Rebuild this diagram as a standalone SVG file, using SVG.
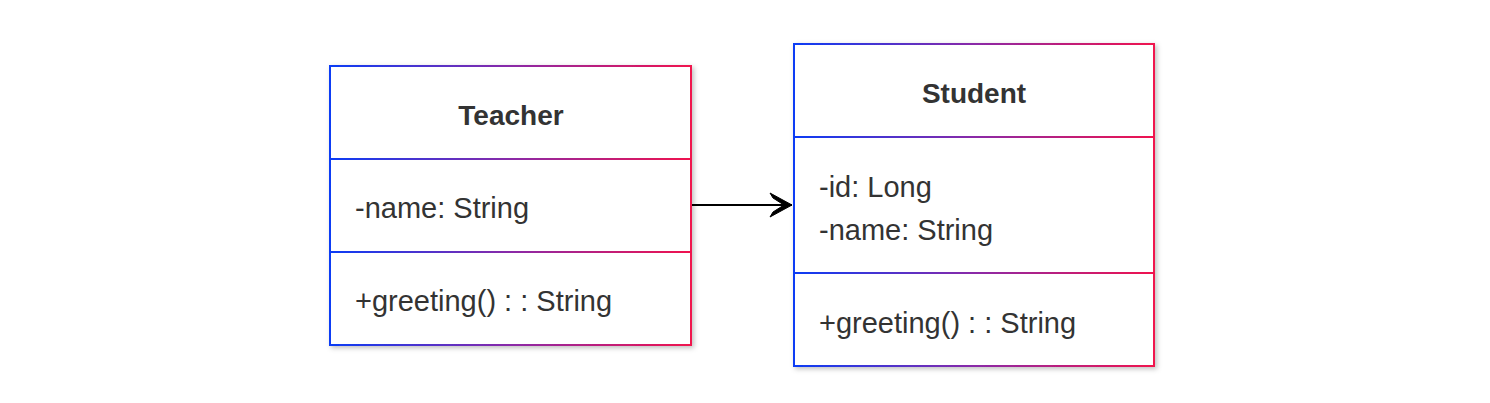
<svg xmlns="http://www.w3.org/2000/svg" width="1490" height="403" viewBox="0 0 1490 403">
<style>
text{font-family:"Liberation Sans",Arial,sans-serif;fill:#333;font-size:29px}
.title{font-weight:bold;text-anchor:middle;font-size:28px}
.box{fill:#fff;stroke-width:2}
.conn{stroke:#000;stroke-width:2;fill:none}
</style>
<defs>
<linearGradient id="gT" gradientUnits="userSpaceOnUse" x1="330" y1="0" x2="691" y2="0">
<stop offset="0" stop-color="#0b3cf5"/><stop offset="0.5" stop-color="#8a2aa8"/><stop offset="1" stop-color="#f0124e"/>
</linearGradient>
<linearGradient id="gS" gradientUnits="userSpaceOnUse" x1="794" y1="0" x2="1154" y2="0">
<stop offset="0" stop-color="#0b3cf5"/><stop offset="0.5" stop-color="#8a2aa8"/><stop offset="1" stop-color="#f0124e"/>
</linearGradient>
<filter id="sh" x="-10%" y="-10%" width="120%" height="120%">
<feDropShadow dx="2" dy="2" stdDeviation="2.5" flood-color="#000" flood-opacity="0.25"/>
</filter>
<marker id="arr" viewBox="0 0 24 26" refX="23" refY="13" markerWidth="24" markerHeight="26" markerUnits="userSpaceOnUse" orient="auto">
<path d="M1,1 L23,13 L1,25 L4,20 L15,13 L4,6 Z" fill="#000" stroke="#000" stroke-width="1" stroke-linejoin="round"/>
</marker>
</defs>
<g id="connectors">
<path class="conn" d="M691,205 L792,205" marker-end="url(#arr)"/>
</g>
<g id="Teacher">
<rect class="box" x="330" y="66" width="361" height="279" stroke="url(#gT)" filter="url(#sh)"/>
<rect x="330" y="158" width="361" height="2" fill="url(#gT)"/>
<rect x="330" y="251" width="361" height="2" fill="url(#gT)"/>
<text class="title" x="511" y="125">Teacher</text>
<text x="355" y="218">-name: String</text>
<text x="355" y="311">+greeting() : : String</text>
</g>
<g id="Student">
<rect class="box" x="794" y="44" width="360" height="322" stroke="url(#gS)" filter="url(#sh)"/>
<rect x="794" y="136" width="360" height="2" fill="url(#gS)"/>
<rect x="794" y="272" width="360" height="2" fill="url(#gS)"/>
<text class="title" x="974" y="103">Student</text>
<text x="819" y="197">-id: Long</text>
<text x="819" y="240">-name: String</text>
<text x="819" y="333">+greeting() : : String</text>
</g>
</svg>
